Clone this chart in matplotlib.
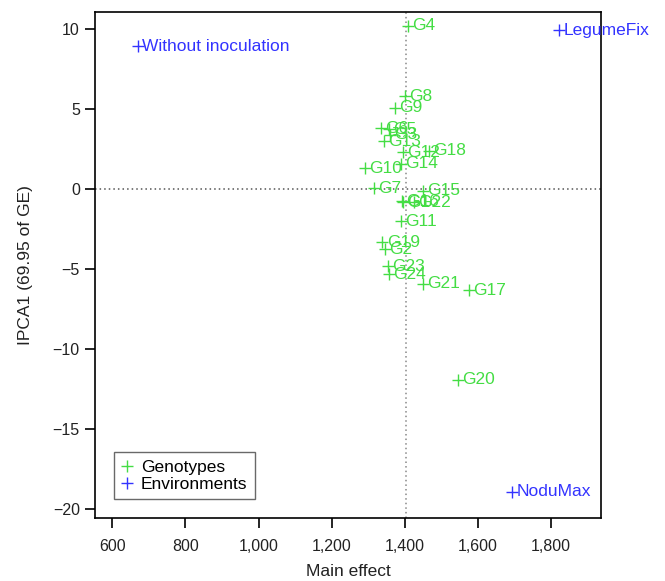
#plot.py
#===========================================================================================
#Librerias
#===========================================================================================
import matplotlib
matplotlib.use("Agg")
import matplotlib.pyplot as plt
from matplotlib.ticker import FuncFormatter

plt.rcParams['font.family'] = ['Liberation Sans', 'DejaVu Sans']

#===========================================================================================
# Datos
#===========================================================================================
genotipos = ["G1", "G2", "G3", "G4", "G5", "G6", "G7", "G8", "G9", "G10", "G11", "G12",
             "G13", "G14", "G15", "G16", "G17", "G18", "G19", "G20", "G21", "G22", "G23", "G24"]
gen_efecto = [1396, 1347, 1360, 1408, 1356, 1334, 1316, 1400, 1373, 1290, 1390, 1395,
              1342, 1389, 1450, 1393, 1576, 1466, 1339, 1545, 1450, 1425, 1355, 1358]
gen_ipca1 = [-0.8, -3.75, 3.4, 10.2, 3.75, 3.8, 0.05, 5.8, 5.1, 1.3, -2.0, 2.3,
             3.0, 1.6, -0.1, -0.75, -6.3, 2.4, -3.3, -11.9, -5.9, -0.8, -4.8, -5.3]

ambientes = ["Without inoculation", "LegumeFix", "NoduMax"]
amb_efecto = [669, 1822, 1694]
amb_ipca1 = [8.94, 9.94, -18.9]

media = 1402

verde = "#44dd44"
azul = "#3333ff"

#===========================================================================================
# Grafico
#===========================================================================================
fig = plt.figure(figsize=(6.65, 5.81), dpi=100)
ax = fig.add_axes([0.143, 0.108, 0.761, 0.871])

ax.axhline(0, color="#555555", linestyle=(0, (1, 2)), linewidth=1.1, zorder=1)
ax.axvline(media, color="#888888", linestyle=(0, (1, 2)), linewidth=1.1, zorder=1)

ax.plot(gen_efecto, gen_ipca1, linestyle="none", marker="+", markersize=9,
        markeredgewidth=1.0, color=verde, label="Genotypes")
ax.plot(amb_efecto, amb_ipca1, linestyle="none", marker="+", markersize=9,
        markeredgewidth=1.0, color=azul, label="Environments")

for nombre, xv, yv in zip(genotipos, gen_efecto, gen_ipca1):
    ax.annotate(nombre, (xv, yv), xytext=(3, 0), textcoords="offset points",
                ha="left", va="center", fontsize=12.5, color=verde)
for nombre, xv, yv in zip(ambientes, amb_efecto, amb_ipca1):
    ax.annotate(nombre, (xv, yv), xytext=(3, 0), textcoords="offset points",
                ha="left", va="center", fontsize=12.5, color=azul)

ax.set_xlim(553, 1937)
ax.set_ylim(-20.56, 11.06)
ax.set_xticks([600, 800, 1000, 1200, 1400, 1600, 1800])
ax.set_yticks([10, 5, 0, -5, -10, -15, -20])
ax.xaxis.set_major_formatter(FuncFormatter(lambda v, p: f"{int(v):,}"))
ax.tick_params(direction="out", length=7, width=1.2, labelsize=11.5, colors="black",
               labelcolor="#222222")
ax.tick_params(axis="x", pad=8)
ax.tick_params(axis="y", pad=4)
for s in ax.spines.values():
    s.set_linewidth(1.2)

ax.set_xlabel("Main effect", fontsize=12.5, color="#222222", labelpad=7)
ax.set_ylabel("IPCA1 (69.95 of GE)", fontsize=12.5, color="#222222", labelpad=14)

leg = ax.legend(loc="lower left", bbox_to_anchor=(0.02, 0.02), fontsize=12.5,
                frameon=True, fancybox=False, edgecolor="#444444", handlelength=0.6,
                handletextpad=0.5, borderpad=0.45, labelspacing=0.1)
leg.get_frame().set_linewidth(1.0)

plt.savefig("out.png", dpi=100)
